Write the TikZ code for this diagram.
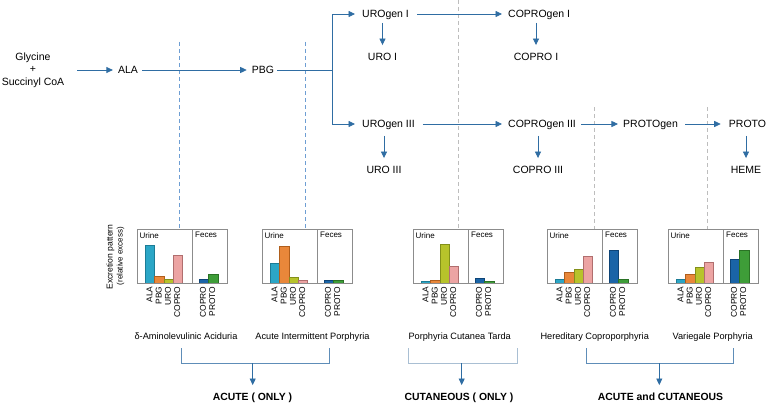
\documentclass[tikz,border=0pt]{standalone}
\usepackage{fontspec}
\setmainfont{Liberation Sans}
\usetikzlibrary{arrows.meta}
\definecolor{arrblue}{HTML}{2F6DA3}
\definecolor{dashblue}{HTML}{6E9ED3}
\definecolor{dashgray}{HTML}{BDBDBD}
\definecolor{brk}{HTML}{5E8DB8}
\definecolor{brklight}{HTML}{A9BFD3}
\definecolor{boxgray}{HTML}{8C8C8C}
\definecolor{fALA}{HTML}{2BA6C6}\definecolor{dALA}{HTML}{1C7C96}
\definecolor{fPBG}{HTML}{E9873A}\definecolor{dPBG}{HTML}{B05E1C}
\definecolor{fURO}{HTML}{B7C32B}\definecolor{dURO}{HTML}{83901A}
\definecolor{fCOP}{HTML}{ECA4A3}\definecolor{dCOP}{HTML}{B06E6E}
\definecolor{fFCO}{HTML}{1A64A7}\definecolor{dFCO}{HTML}{0E4477}
\definecolor{fPRO}{HTML}{3E9D38}\definecolor{dPRO}{HTML}{2A7225}
\tikzset{
  txt/.style={font=\fontsize{10.5}{13}\selectfont, inner sep=0pt, text height=7.5pt, text depth=0pt},
  arr/.style={draw=arrblue, line width=0.8pt, -{Triangle[length=6.5pt,width=6pt]}},
  ln/.style={draw=arrblue, line width=0.8pt},
  dblue/.style={draw=dashblue, line width=0.7pt, dash pattern=on 4pt off 3pt},
  dgray/.style={draw=dashgray, line width=0.6pt, dash pattern=on 4pt off 3pt},
  boxln/.style={draw=boxgray, line width=0.7pt},
  sect/.style={font=\fontsize{8}{9}\selectfont, inner sep=0pt, anchor=north west},
  barlab/.style={font=\fontsize{8.4}{9}\selectfont, inner sep=0pt, rotate=90, anchor=east, text height=6pt, text depth=0pt},
  dis/.style={font=\fontsize{9.2}{11}\selectfont, inner sep=0pt, text height=6.6pt, text depth=0pt},
  cat/.style={font=\fontsize{10.4}{12}\selectfont\bfseries, inner sep=0pt, text height=7.5pt, text depth=0pt},
  brkln/.style={draw=brk, line width=0.8pt},
  brklnl/.style={draw=brklight, line width=0.8pt},
  ylab/.style={inner sep=0pt, rotate=90}
}
\newcommand{\drawpanel}[7]{%
\begin{scope}[shift={(#1,0)}]
  \draw[draw=dALA, fill=fALA, line width=0.5pt] (8,283) rectangle (17.4,#2);
  \draw[draw=dPBG, fill=fPBG, line width=0.5pt] (17.4,283) rectangle (26.8,#3);
  \draw[draw=dURO, fill=fURO, line width=0.5pt] (26.8,283) rectangle (36.2,#4);
  \draw[draw=dCOP, fill=fCOP, line width=0.5pt] (36.2,283) rectangle (45.6,#5);
  \draw[draw=dFCO, fill=fFCO, line width=0.5pt] (62,283) rectangle (71.4,#6);
  \draw[draw=dPRO, fill=fPRO, line width=0.5pt] (71.4,283) rectangle (80.8,#7);
  \draw[boxln] (0,229) rectangle (90,283);
  \draw[boxln] (55.5,229) -- (55.5,283);
  \node[sect] at (2.5,232) {Urine};
  \node[sect] at (58,232) {Feces};
  \node[barlab] at (12.4,286.5) {ALA};
  \node[barlab] at (21.6,286.5) {PBG};
  \node[barlab] at (30.8,286.5) {URO};
  \node[barlab] at (40,286.5) {COPRO};
  \node[barlab] at (65.8,286.5) {COPRO};
  \node[barlab] at (75,286.5) {PROTO};
\end{scope}}
\begin{document}
\begin{tikzpicture}[x=1pt,y=-1pt]
\useasboundingbox[fill=white] (0,0) rectangle (767,404);

% dashed guide lines
\draw[dgray] (458,0) -- (458,229);
\draw[dgray] (594,107) -- (594,229);
\draw[dgray] (707,107) -- (707,229);
\draw[dblue] (179,42) -- (179,229);
\draw[dblue] (305,42) -- (305,229);

% pathway nodes
\node[font=\fontsize{10.5}{12.5}\selectfont, inner sep=0pt, align=center] (gly) at (33,70) {Glycine\\+\\Succinyl CoA};
\node[txt] (ala) at (128,70) {ALA};
\node[txt] (pbg) at (263,70) {PBG};
\node[txt, anchor=west] (u1) at (362,14) {UROgen I};
\node[txt, anchor=west] (u3) at (362,124) {UROgen III};
\node[txt] (uro1) at (382.5,57) {URO I};
\node[txt] (uro3) at (384,170) {URO III};
\node[txt, anchor=west] (c1) at (508,14) {COPROgen I};
\node[txt, anchor=west] (c3) at (508,124) {COPROgen III};
\node[txt] (cp1) at (536,57) {COPRO I};
\node[txt] (cp3) at (538,170) {COPRO III};
\node[txt] (protogen) at (650.5,124) {PROTOgen};
\node[txt] (proto) at (747.5,124) {PROTO};
\node[txt] (heme) at (746,170) {HEME};
\coordinate (br) at (332,70);

% pathway connectors
\draw[arr, shorten <=13pt, shorten >=5pt] (gly.east |- ala.west) -- (ala.west);
\draw[arr, shorten <=4pt, shorten >=5pt] (ala.east) -- (pbg.west);
\draw[ln, shorten <=3pt] (pbg.east) -- (br);
\draw[arr, shorten >=7pt] (br) |- (u1.west);
\draw[arr, shorten >=7pt] (br) |- (u3.west);
\draw[arr, shorten <=5pt, shorten >=8pt] (uro1.north |- u1.south) -- (uro1.north);
\draw[arr, shorten <=8pt, shorten >=8pt] (uro3.north |- u3.south) -- (uro3.north);
\draw[arr, shorten <=8pt, shorten >=6pt] (u1.east) -- (c1.west);
\draw[arr, shorten <=8pt, shorten >=6pt] (u3.east) -- (c3.west);
\draw[arr, shorten <=5pt, shorten >=8pt] (cp1.north |- c1.south) -- (cp1.north);
\draw[arr, shorten <=8pt, shorten >=8pt] (cp3.north |- c3.south) -- (cp3.north);
\draw[arr, shorten <=5pt, shorten >=5pt] (c3.east) -- (protogen.west);
\draw[arr, shorten <=7pt, shorten >=8pt] (protogen.east) -- (proto.west);
\draw[arr, shorten <=8pt, shorten >=8pt] (heme.north |- proto.south) -- (heme.north);

% y axis label
\node[ylab, font=\fontsize{8.6}{10}\selectfont] (ylab1) at (110.5,257) {Excretion pattern};
\node[ylab, font=\fontsize{8}{10}\selectfont] (ylab2) at (120.5,256) {(relative excess)};

% panels
\drawpanel{137}{245}{276.7}{279.3}{255.7}{279.3}{274}
\drawpanel{262}{263.3}{246}{277.3}{280.7}{280.7}{280.7}
\drawpanel{413}{281}{280}{244.3}{266}{278.3}{281}
\drawpanel{547}{279}{272.7}{269}{256.7}{250.7}{279.3}
\drawpanel{668}{279.3}{274}{267.7}{262.7}{259}{250}

% disease names
\node[dis] (d1) at (186,336) {δ-Aminolevulinic Aciduria};
\node[dis] (d2) at (312.5,336) {Acute Intermittent Porphyria};
\node[dis] (d3) at (459.7,336) {Porphyria Cutanea Tarda};
\node[dis] (d4) at (594.7,336) {Hereditary Coproporphyria};
\node[dis] (d5) at (712.7,336) {Variegale Porphyria};

% categories
\node[cat] (acute) at (252.5,397) {ACUTE ( ONLY )};
\node[cat] (cut) at (459,397) {CUTANEOUS ( ONLY )};
\node[cat] (both) at (660.5,397) {ACUTE and CUTANEOUS};

% brackets
\coordinate (b1m) at (252.7,363.3);
\coordinate (b2m) at (461.7,363.3);
\coordinate (b3m) at (659.3,363.3);
\draw[brkln] (181.7,348) -- (181.7,363.3) -- (329,363.3) -- (329,348);
\draw[brklnl] (408.3,348) -- (408.3,363.3) -- (517.3,363.3) -- (517.3,348);
\draw[brkln] (586.7,348) -- (586.7,363.3) -- (733.3,363.3) -- (733.3,348);
\draw[arr, shorten >=8pt] (b1m) -- (b1m |- acute.north);
\draw[arr, shorten >=8pt] (b2m) -- (b2m |- cut.north);
\draw[arr, shorten >=8pt] (b3m) -- (b3m |- both.north);
\end{tikzpicture}
\end{document}
